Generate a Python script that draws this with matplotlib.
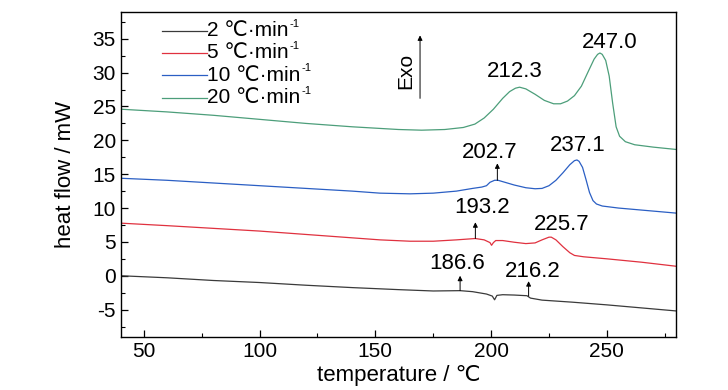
import matplotlib
matplotlib.use('Agg')
import matplotlib.pyplot as plt
from matplotlib.ticker import MultipleLocator

# readings
t_2 = [40, 60, 80, 100, 120, 140, 160, 175, 186.6, 192, 198, 200.5, 201.5, 202.5, 205, 210, 215.5, 217, 222, 235, 250, 265, 280]
hf_2 = [0.0, -0.3, -0.7, -1.0, -1.4, -1.75, -2.05, -2.25, -2.2, -2.35, -2.7, -3.0, -3.55, -2.9, -2.8, -2.85, -2.95, -3.3, -3.6, -3.9, -4.3, -4.75, -5.2]

t_5 = [40, 60, 80, 100, 120, 140, 152, 165, 175, 185, 193.2, 197, 199.5, 200.2, 201, 202, 205, 210, 215, 219, 222, 225, 226, 228, 231, 234, 236, 240, 250, 265, 280]
hf_5 = [7.77, 7.4, 7.0, 6.6, 6.1, 5.6, 5.3, 5.1, 5.1, 5.3, 5.5, 5.3, 4.9, 4.5, 4.9, 5.2, 5.2, 4.95, 4.75, 4.85, 5.3, 5.7, 5.7, 5.3, 4.3, 3.4, 3.0, 2.8, 2.5, 2.0, 1.4]

t_10 = [40, 60, 80, 100, 120, 140, 152, 165, 175, 185, 192, 196, 198, 199.5, 201.5, 203, 206, 210, 215, 219, 222, 225, 228, 231, 234, 236, 237.1, 238, 239.5, 241, 242.5, 244, 245.5, 248, 255, 265, 280]
hf_10 = [14.4, 14.1, 13.7, 13.3, 12.9, 12.5, 12.2, 12.1, 12.2, 12.5, 12.9, 13.1, 13.3, 13.8, 14.1, 14.1, 13.8, 13.4, 13.0, 12.85, 12.9, 13.3, 14.1, 15.2, 16.4, 17.0, 17.1, 16.9, 16.0, 14.2, 12.3, 11.1, 10.6, 10.3, 10.0, 9.7, 9.25]

t_20 = [40, 60, 80, 100, 120, 140, 160, 170, 180, 188, 193, 197, 201, 205, 208, 210.5, 212.3, 215, 219, 223, 227, 230, 233, 236, 239, 242, 244.5, 246, 247, 248, 249.5, 251, 252.5, 254, 255.5, 258, 262, 270, 280]
hf_20 = [24.6, 24.2, 23.7, 23.1, 22.5, 22.0, 21.6, 21.5, 21.6, 21.9, 22.4, 23.3, 24.6, 26.2, 27.2, 27.7, 27.85, 27.6, 26.8, 25.9, 25.4, 25.4, 25.8, 26.6, 28.0, 30.2, 32.0, 32.7, 32.9, 32.7, 31.8, 29.5, 25.5, 22.0, 20.6, 19.8, 19.35, 19.0, 18.65]

rates = ['2', '5', '10', '20']
colors = ['#3a3a3a', '#e0313f', '#2b5fc4', '#4c9e7a']

# peak labels: text, text position, arrow (start, end) or None
peak_labels = ['247.0', '212.3', '202.7', '237.1', '193.2', '225.7', '186.6', '216.2']
label_x = [251.2, 210.2, 199.4, 237.4, 195.9, 230.3, 185.2, 218.0]
label_y = [34.5, 30.1, 18.25, 19.25, 10.14, 7.58, 1.77, 0.68]
arrow_x = [None, None, 202.7, None, 193.2, None, 186.6, 216.2]
arrow_y0 = [None, None, 14.1, None, 5.5, None, -2.2, -3.0]
arrow_y1 = [None, None, 16.6, None, 7.9, None, 0.0, -0.8]

plt.rcParams['font.family'] = ['Liberation Sans', 'DejaVu Sans']
plt.rcParams['axes.unicode_minus'] = False

fig = plt.figure(figsize=(7.28, 3.9), dpi=100)
ax = fig.add_axes([0.1658, 0.1367, 0.7632, 0.8333])

series = [(t_2, hf_2), (t_5, hf_5), (t_10, hf_10), (t_20, hf_20)]
for (t, hf), c in zip(series, colors):
    ax.plot(t, hf, color=c, lw=0.9)

# legend drawn by hand so the rows sit like the original
row_y = [0.941, 0.873, 0.804, 0.735]
for r, c, y in zip(rates, colors, row_y):
    ax.plot([0.074, 0.155], [y, y], color=c, lw=0.9, transform=ax.transAxes)
    lab = ax.text(0.156, y, r + ' ℃·min', fontsize=15, ha='left', va='center',
                  transform=ax.transAxes)
    ax.annotate('-1', xy=(1.0, 0.62), xycoords=lab, xytext=(0.5, 0),
                textcoords='offset points', fontsize=8, ha='left', va='bottom')

for i, s in enumerate(peak_labels):
    ax.text(label_x[i], label_y[i], s, fontsize=16, ha='center', va='center')
    if arrow_x[i] is not None:
        ax.annotate('', xy=(arrow_x[i], arrow_y1[i]), xytext=(arrow_x[i], arrow_y0[i]),
                    arrowprops=dict(arrowstyle='-|>', color='black', lw=0.7,
                                    mutation_scale=7, shrinkA=0, shrinkB=0))

# Exo direction marker
ax.annotate('', xy=(169.3, 35.5), xytext=(169.3, 26.2),
            arrowprops=dict(arrowstyle='-|>', color='black', lw=0.7,
                            mutation_scale=7, shrinkA=0, shrinkB=0))
ax.text(163.0, 30.3, 'Exo', rotation=90, fontsize=15, ha='center', va='center')

ax.set_xlim(40, 280)
ax.set_ylim(-9, 39)
ax.xaxis.set_major_locator(MultipleLocator(50))
ax.xaxis.set_minor_locator(MultipleLocator(25))
ax.yaxis.set_major_locator(MultipleLocator(5))
ax.yaxis.set_minor_locator(MultipleLocator(2.5))
ax.tick_params(which='both', direction='in', top=False, right=False, labelsize=15)
ax.tick_params(which='major', length=5, width=0.9)
ax.tick_params(which='minor', length=3, width=0.8)
for sp in ax.spines.values():
    sp.set_linewidth(1.0)

ax.set_xlabel('temperature / ℃', fontsize=16, labelpad=3)
ax.set_ylabel('heat flow / mW', fontsize=16, labelpad=12)

fig.savefig('out.png', dpi=100)
